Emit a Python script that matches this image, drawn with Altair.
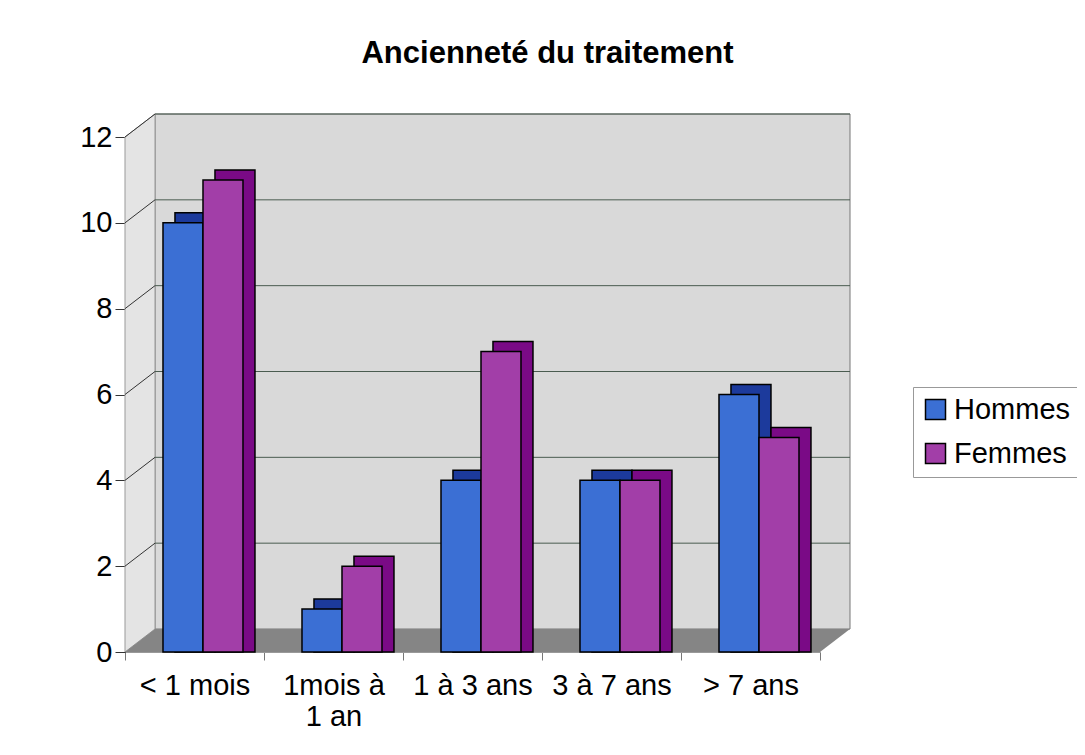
import altair as alt
import pandas as pd

categories = ["< 1 mois", "1mois à 1 an", "1 à 3 ans", "3 à 7 ans", "> 7 ans"]
series = ["Hommes", "Femmes"]
hommes = [10, 1, 4, 4, 6]
femmes = [11, 2, 7, 4, 5]
front_colors = ["#3b6fd4", "#a23ea8"]
side_colors = ["#1c3a9c", "#7a0a86"]
y_ticks = [0, 2, 4, 6, 8, 10, 12]

rows = []
for c, h, f in zip(categories, hommes, femmes):
    rows.append({"cat": c, "serie": "Hommes", "val": h, "side": side_colors[0]})
    rows.append({"cat": c, "serie": "Femmes", "val": f, "side": side_colors[1]})
df = pd.DataFrame(rows)
grid = pd.DataFrame({"v": y_ticks})

W, H = 695, 515
DX, DY = 30, 23      # wall depth
BX, BY = 12, 10      # bar depth
LIFT = 8
FONT = "Liberation Sans"

# decorative walls / floor in pixel space (u = distance above front baseline)
floor_df = pd.DataFrame({"px": [0, DX, W, W + DX], "top": [0, DY, DY, DY], "bot": [0, 0, 0, DY]})
lwall_df = pd.DataFrame({"px": [0, DX], "top": [H, H + DY], "bot": [0, DY]})
bwall_df = pd.DataFrame({"x1": [DX], "x2": [W + DX], "u1": [DY], "u2": [H + DY]})

px_scale = alt.Scale(domain=[0, W], nice=False, zero=False)
pu_scale = alt.Scale(domain=[0, H], nice=False, zero=False)

back_wall = alt.Chart(bwall_df).mark_rect(fill="#d9d9d9", stroke="#777", strokeWidth=1).encode(
    x=alt.X("x1:Q", scale=px_scale, axis=None), x2="x2:Q",
    y=alt.Y("u1:Q", scale=pu_scale, axis=None), y2="u2:Q")
left_wall = alt.Chart(lwall_df).mark_area(fill="#e4e4e4", stroke="#999", strokeWidth=1).encode(
    x=alt.X("px:Q", scale=px_scale, axis=None),
    y=alt.Y("top:Q", scale=pu_scale, axis=None), y2="bot:Q")
floor = alt.Chart(floor_df).mark_area(fill="#858585").encode(
    x=alt.X("px:Q", scale=px_scale, axis=None),
    y=alt.Y("top:Q", scale=pu_scale, axis=None), y2="bot:Q")
decor = alt.layer(back_wall, left_wall, floor)

yscale = alt.Scale(domain=[0, 12], nice=False)
yaxis = alt.Axis(title=None, values=y_ticks, labelFontSize=29, labelFont=FONT,
                 labelColor="black", tickSize=10, tickColor="#333", domainColor="#222",
                 grid=False, labelPadding=3)
xaxis = alt.Axis(title=None, labelFontSize=29, labelFont=FONT, labelColor="black",
                 labelAngle=0, tickBand="extent", tickSize=8, tickColor="#777",
                 domainColor="#999", labelPadding=11,
                 labelExpr="datum.value == '1mois à 1 an' ? ['1mois à', '1 an'] : datum.value",
                 labelLineHeight=31)
xscale = alt.Scale(paddingInner=0, paddingOuter=0)

back_grid = alt.Chart(grid).transform_filter("datum.v > 0").mark_rule(
    color="#4a5c50", strokeWidth=1, yOffset=-DY, y2Offset=-DY).encode(
    y=alt.Y("v:Q", scale=yscale, axis=yaxis),
    x=alt.value(DX), x2=alt.value(W + DX))
side_grid = alt.Chart(grid).transform_filter("datum.v > 0").mark_rule(
    color="#333", strokeWidth=1, y2Offset=-DY).encode(
    y=alt.Y("v:Q", scale=yscale, axis=yaxis), y2="v:Q",
    x=alt.value(0), x2=alt.value(DX))

shadow = alt.Chart(df).mark_bar(stroke="black", strokeWidth=1.5, yOffset=-BY).encode(
    x=alt.X("cat:N", sort=categories, scale=xscale, axis=xaxis),
    xOffset=alt.XOffset("serie:N", sort=series,
                        scale=alt.Scale(paddingInner=0, paddingOuter=0.7375, align=0.847)),
    y=alt.Y("val:Q", scale=yscale, axis=yaxis),
    y2=alt.value(H - LIFT - BY),
    fill=alt.Fill("side:N", scale=None))

front = alt.Chart(df).mark_bar(stroke="black", strokeWidth=1.5).encode(
    x=alt.X("cat:N", sort=categories, scale=xscale, axis=xaxis),
    xOffset=alt.XOffset("serie:N", sort=series,
                        scale=alt.Scale(paddingInner=0, paddingOuter=0.7375, align=0.644)),
    y=alt.Y("val:Q", scale=yscale, axis=yaxis),
    y2=alt.value(H - LIFT),
    color=alt.Color("serie:N", sort=series,
                    scale=alt.Scale(domain=series, range=front_colors),
                    legend=alt.Legend(title=None, orient="none", legendX=788, legendY=250,
                                      labelFontSize=29, labelFont=FONT, labelColor="black",
                                      symbolType="square", symbolSize=400,
                                      symbolStrokeColor="black", symbolStrokeWidth=1.5,
                                      strokeColor="#999", fillColor="white", padding=8,
                                      rowPadding=14, labelOffset=4)),
)

main = alt.layer(back_grid, side_grid, shadow, front).resolve_scale(xOffset="independent")

chart = alt.layer(decor, main).resolve_scale(x="independent", y="independent").properties(
    width=W, height=H,
    title=alt.Title("Ancienneté du traitement", fontSize=31, font=FONT, fontWeight="bold",
                    anchor="middle", dx=75, offset=42, color="black"),
    padding={"left": 117, "top": 129, "right": 257, "bottom": 95},
    autosize=alt.AutoSizeParams(type="none"),
).configure_view(stroke=None).configure(background="white")

chart.save("out.html", embed_options={"renderer": "svg", "actions": False})
